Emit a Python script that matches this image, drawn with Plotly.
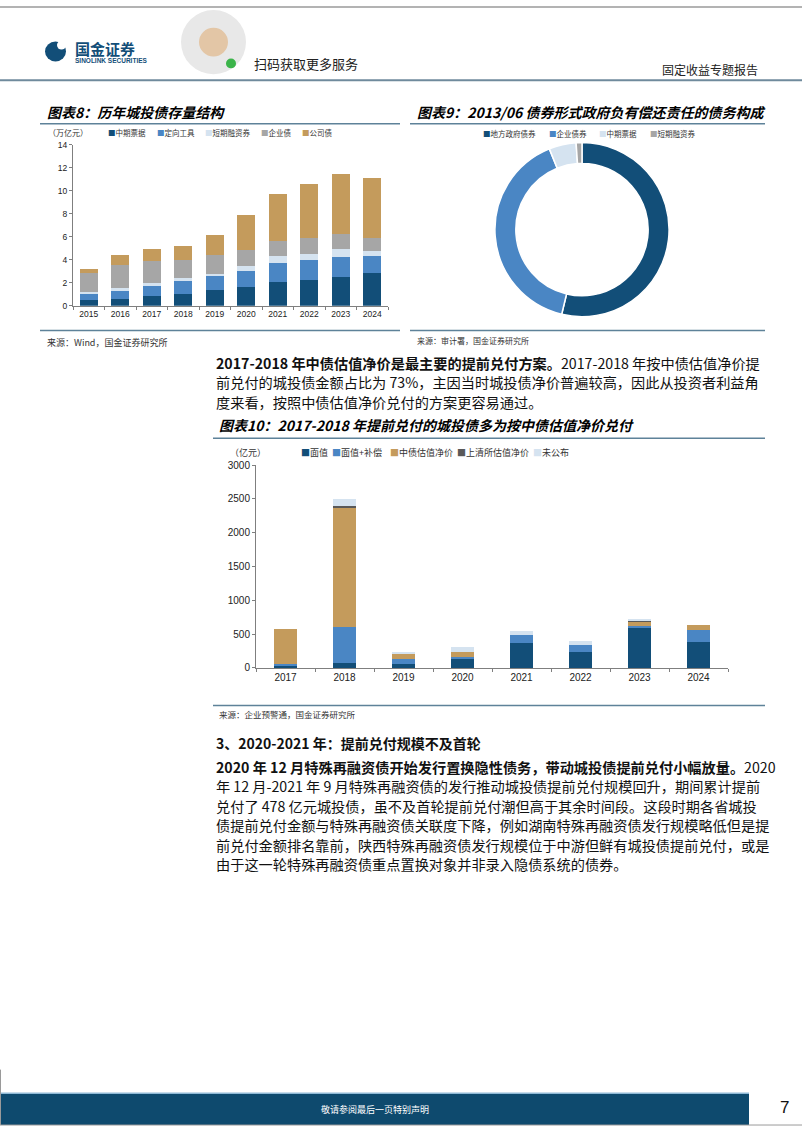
import plotly.graph_objects as go

W, H = 802, 1133
CJK = "Noto Sans CJK SC"
NUM = "Liberation Sans"

NAVY = "#124E78"
BLUE = "#4A86C4"
LIGHT = "#D5E3F0"
GRAY = "#A6A6A6"
GOLD = "#C49B5C"
DGRAY = "#595959"
RULE = "#5E8299"

# 图表8 历年城投债存量结构（万亿元）
years8 = ["2015", "2016", "2017", "2018", "2019", "2020", "2021", "2022", "2023", "2024"]
mtn = [0.49, 0.63, 0.83, 1.06, 1.34, 1.66, 2.03, 2.26, 2.51, 2.86]
dxgj = [0.60, 0.77, 0.94, 1.05, 1.23, 1.37, 1.66, 1.68, 1.72, 1.45]
cp = [0.14, 0.17, 0.17, 0.26, 0.23, 0.46, 0.60, 0.57, 0.66, 0.46]
qyz = [1.63, 1.94, 1.92, 1.57, 1.57, 1.31, 1.34, 1.35, 1.31, 1.09]
gsz = [0.31, 0.92, 1.08, 1.23, 1.74, 3.11, 4.11, 4.71, 5.26, 5.23]
names8 = ["中期票据", "定向工具", "短期融资券", "企业债", "公司债"]
colors8 = [NAVY, BLUE, LIGHT, GRAY, GOLD]

# 图表9 2013/06 债券形式政府负有偿还责任的债务构成（亿元）
names9 = ["地方政府债券", "企业债券", "中期票据", "短期融资券"]
values9 = [6146.28, 4590.09, 575.44, 123.53]
colors9 = [NAVY, BLUE, LIGHT, GRAY]

# 图表10 提前兑付方式（亿元）
years10 = ["2017", "2018", "2019", "2020", "2021", "2022", "2023", "2024"]
face = [30, 78, 59, 141, 371, 234, 585, 380]
face_comp = [33, 527, 73, 20, 112, 103, 35, 176]
cb_net = [508, 1761, 78, 73, 0, 0, 63, 78]
sh_net = [0, 34, 0, 0, 0, 0, 10, 0]
undisclosed = [0, 102, 24, 78, 58, 58, 20, 0]
names10 = ["面值", "面值+补偿", "中债估值净价", "上清所估值净价", "未公布"]
colors10 = [NAVY, BLUE, GOLD, DGRAY, LIGHT]

para1 = [
    "<b>2017-2018 年中债估值净价是最主要的提前兑付方案。</b>2017-2018 年按中债估值净价提",
    "前兑付的城投债金额占比为 73%，主因当时城投债净价普遍较高，因此从投资者利益角",
    "度来看，按照中债估值净价兑付的方案更容易通过。",
]
para2 = [
    "<b>2020 年 12 月特殊再融资债开始发行置换隐性债务，带动城投债提前兑付小幅放量。</b>2020",
    "年 12 月-2021 年 9 月特殊再融资债的发行推动城投债提前兑付规模回升，期间累计提前",
    "兑付了 478 亿元城投债，虽不及首轮提前兑付潮但高于其余时间段。这段时期各省城投",
    "债提前兑付金额与特殊再融资债关联度下降，例如湖南特殊再融资债发行规模略低但是提",
    "前兑付金额排名靠前，陕西特殊再融资债发行规模位于中游但鲜有城投债提前兑付，或是",
    "由于这一轮特殊再融资债重点置换对象并非录入隐债系统的债券。",
]

annotations = []
shapes = []


def fx(x):
    return x / W


def fy(y):
    return 1 - y / H


def txt(x, y, s, size, color="#000", anchor="left", family=CJK):
    annotations.append(dict(
        x=fx(x), y=fy(y), xref="paper", yref="paper", text=s, showarrow=False,
        xanchor=anchor, yanchor="middle", font=dict(size=size, color=color, family=family),
    ))


def line(x0, y0, x1, y1, color=RULE, width=1.5):
    shapes.append(dict(type="line", xref="paper", yref="paper", x0=fx(x0), y0=fy(y0),
                       x1=fx(x1), y1=fy(y1), line=dict(color=color, width=width)))


def rect(x0, y0, x1, y1, fill, kind="rect"):
    shapes.append(dict(type=kind, xref="paper", yref="paper", x0=fx(x0), y0=fy(y0),
                       x1=fx(x1), y1=fy(y1), fillcolor=fill, line=dict(width=0)))


def legend_row(x, y, names, colors, size, gap):
    for n, c in zip(names, colors):
        txt(x, y, f"<span style='color:{c}'>■</span>{n}", size, "#333")
        x += (len(n) + 1) * size + gap


fig = go.Figure()

# 图表8
for n, c, v in zip(names8, colors8, [mtn, dxgj, cp, qyz, gsz]):
    fig.add_trace(go.Bar(x=years8, y=v, name=n, marker=dict(color=c, line=dict(width=0)),
                         xaxis="x", yaxis="y", showlegend=False))

# 图表9
fig.add_trace(go.Pie(labels=names9, values=values9, hole=0.76, sort=False, direction="clockwise",
                     rotation=0, textinfo="none", showlegend=False,
                     marker=dict(colors=colors9, line=dict(color="white", width=1.5)),
                     domain=dict(x=[fx(494), fx(670)], y=[fy(314), fy(138)])))

# 图表10
for n, c, v in zip(names10, colors10, [face, face_comp, cb_net, sh_net, undisclosed]):
    fig.add_trace(go.Bar(x=years10, y=v, name=n, marker=dict(color=c, line=dict(width=0)),
                         xaxis="x2", yaxis="y2", showlegend=False))

# 页眉
line(0, 1, W, 1, "#9A9A9A", 1.5)
line(0, 75, W, 75, "#6F8A9C", 2)
rect(45, 36, 66, 56, NAVY, "circle")
rect(57, 35, 66, 44, "white", "circle")
txt(73, 43, "<b>国金证券</b>", 15, NAVY)
txt(73, 55, "<b>SINOLINK SECURITIES</b>", 6.5, NAVY, family=NUM)
rect(181, 4, 246, 69, "#E8E8E8", "circle")
rect(199, 22, 228, 51, "#E3C6A6", "circle")
rect(226, 53, 236, 63, "#3BB44A", "circle")
txt(252, 58, "扫码获取更多服务", 13, "#222")
txt(760, 64, "固定收益专题报告", 12, "#222", "right")

# 图表8 / 图表9 标题与来源
txt(45, 107, "<b><i>图表8：历年城投债存量结构</i></b>", 14)
txt(415, 107, "<b><i>图表9：2013/06 债券形式政府负有偿还责任的债务构成</i></b>", 14)
line(40, 119, 400, 119)
line(410, 119, 765, 119)
txt(46, 128, "（万亿元）", 8, "#333")
legend_row(106, 128, names8, colors8, 7.5, 11)
legend_row(481, 129, names9, colors9, 7.5, 13)
line(40, 328, 400, 328)
line(410, 328, 765, 328)
txt(45, 340, "来源：Wind，国金证券研究所", 9, "#333")
txt(415, 338, "来源：审计署，国金证券研究所", 8, "#333")

for i, s in enumerate(para1):
    txt(214, 361 + i * 19.5, s, 14.2, "#111")

# 图表10 标题与来源
txt(217, 423, "<b><i>图表10：2017-2018 年提前兑付的城投债多为按中债估值净价兑付</i></b>", 14)
line(213, 437, 765, 437)
txt(228, 451, "（亿元）", 9, "#333")
legend_row(299, 451, names10, colors10, 9, 4)
line(213, 707, 765, 707)
txt(217, 716, "来源：企业预警通，国金证券研究所", 8.5, "#333")

txt(214, 745, "<b>3、2020-2021 年：提前兑付规模不及首轮</b>", 14, "#111")
for i, s in enumerate(para2):
    txt(214, 769 + i * 19.7, s, 14.2, "#111")

# 页脚
rect(0, 1099, 749, 1131, "#0E4A6E")
line(0, 1099, 749, 1099, "#8FB9D6", 1.5)
line(0, 1131, W, 1131, "#9A9A9A", 1)
line(0.5, 1075, 0.5, 1131, "#9A9A9A", 1)
txt(375, 1115, "敬请参阅最后一页特别声明", 9, "white", "center")
txt(784, 1113, "7", 17, "#111", "center", NUM)

axis_common = dict(showgrid=False, zeroline=False, showline=True, linecolor="#7F7F7F",
                   linewidth=1, ticks="outside", tickcolor="#7F7F7F", ticklen=3)

fig.update_layout(
    width=W, height=H, margin=dict(l=0, r=0, t=0, b=0),
    paper_bgcolor="white", plot_bgcolor="white",
    font=dict(family=CJK, color="#222"),
    barmode="stack",
    xaxis=dict(domain=[fx(73), fx(388)], anchor="y", tickson="boundaries",
               tickfont=dict(size=8.5, family=NUM, color="#222"), **axis_common),
    yaxis=dict(domain=[fy(303), fy(140)], anchor="x", range=[0, 14], dtick=2,
               tickfont=dict(size=8.5, family=NUM, color="#222"), **axis_common),
    xaxis2=dict(domain=[fx(256), fx(728)], anchor="y2", tickson="boundaries",
                tickfont=dict(size=10, family=NUM, color="#222"), **axis_common),
    yaxis2=dict(domain=[fy(669), fy(464)], anchor="x2", range=[0, 3000], dtick=500,
                tickfont=dict(size=10, family=NUM, color="#222"), **axis_common),
    bargap=0.44,
    annotations=annotations,
    shapes=shapes,
)
fig.update_traces(width=0.4, selector=dict(type="bar", xaxis="x2"))
fig.update_traces(width=0.56, selector=dict(type="bar", xaxis="x"))

fig.write_html("out.html", config={"displayModeBar": False},
               post_script="document.body.style.margin='0';")
